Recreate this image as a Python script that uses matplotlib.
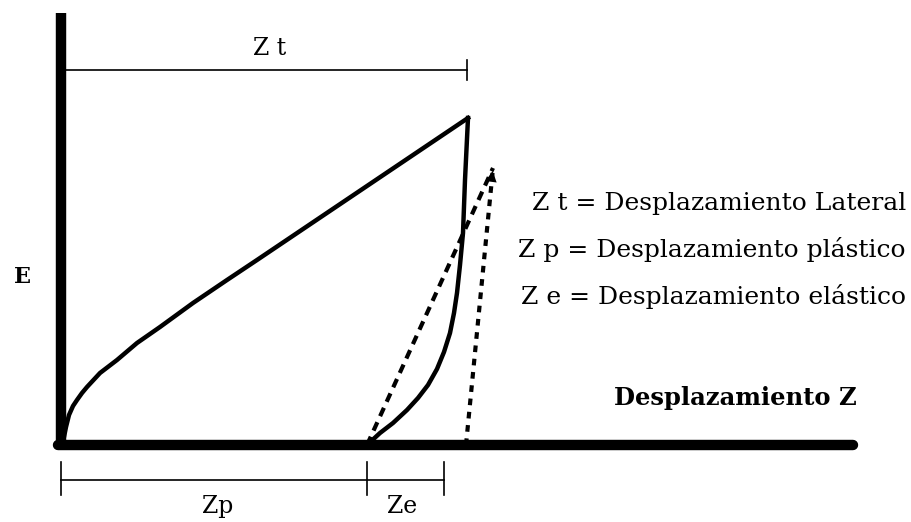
import matplotlib.pyplot as plt

# loading branch: displacement z vs force E (origin at the axes corner)
load_z = [1, 3, 5, 8, 12, 16, 21, 26, 39, 56, 76, 99, 132, 166, 196, 407]
load_e = [0, 8, 18, 30, 39, 45, 52, 58, 72, 85, 102, 118, 142, 165, 185, 327]

# unloading branch back to the residual displacement
unload_z = [407, 404, 402, 399, 396, 393, 389, 383, 376, 367, 357, 346, 332, 319, 306]
unload_e = [327, 265, 212, 180, 152, 132, 112, 93, 76, 60, 47, 35, 22, 12, 0]

# elastic reloading lines meeting at the arrow tip
elastic_z = [306, 432]
elastic_e = [0, 277]
recover_z = [405, 432]
recover_e = [0, 277]

zt = 406
zp = 306
ze = 383

legend_lines = [
    "Z t = Desplazamiento Lateral",
    "Z p = Desplazamiento plástico",
    "Z e = Desplazamiento elástico",
]

plt.rcParams['font.family'] = ['DejaVu Serif']

fig = plt.figure(figsize=(9.12, 5.22), dpi=100)
ax = fig.add_axes([0, 0, 1, 1])
ax.set_xlim(-61, 851)
ax.set_ylim(-77, 445)
ax.axis('off')

# axes drawn by hand
ax.plot([0, 0], [0, 432], color='black', lw=7.5, solid_capstyle='butt')
ax.plot([-3, 792], [0, 0], color='black', lw=7.5, solid_capstyle='round')

ax.plot(load_z, load_e, color='black', lw=3.2, solid_joinstyle='round')
ax.plot(unload_z, unload_e, color='black', lw=3.2, solid_joinstyle='round')
ax.plot(elastic_z, elastic_e, color='black', lw=3, linestyle=(0, (2.2, 1.6)))
ax.plot(recover_z, recover_e, color='black', lw=3, linestyle=(0, (1.6, 1.6)))
ax.annotate('', xy=(elastic_z[1], elastic_e[1]),
            xytext=(elastic_z[1] - 3, elastic_e[1] - 22),
            arrowprops=dict(arrowstyle='-|>', color='black', lw=0,
                            mutation_scale=20))

# Zt dimension line
ax.plot([0, zt], [375, 375], color='black', lw=1.2)
ax.plot([zt, zt], [385, 365], color='black', lw=1.2)
ax.text(209, 390, "Z t", ha='center', va='baseline', fontsize=17)

# Zp / Ze dimension lines
ax.plot([0, ze], [-35, -35], color='black', lw=1.2)
for z in [0, zp, ze]:
    ax.plot([z, z], [-17, -50], color='black', lw=1.2)
ax.text(157, -68, "Zp", ha='center', va='baseline', fontsize=17)
ax.text(341, -68, "Ze", ha='center', va='baseline', fontsize=17)

ax.text(-39, 162, "E", ha='center', va='baseline', fontsize=16,
        fontweight='bold')
ax.text(796, 40, "Desplazamiento Z", ha='right', va='baseline', fontsize=17.5,
        fontweight='bold')

for i, line in enumerate(legend_lines):
    ax.text(845, 235 - i * 47, line, ha='right', va='baseline', fontsize=18)

fig.savefig('out.png', dpi=100)
